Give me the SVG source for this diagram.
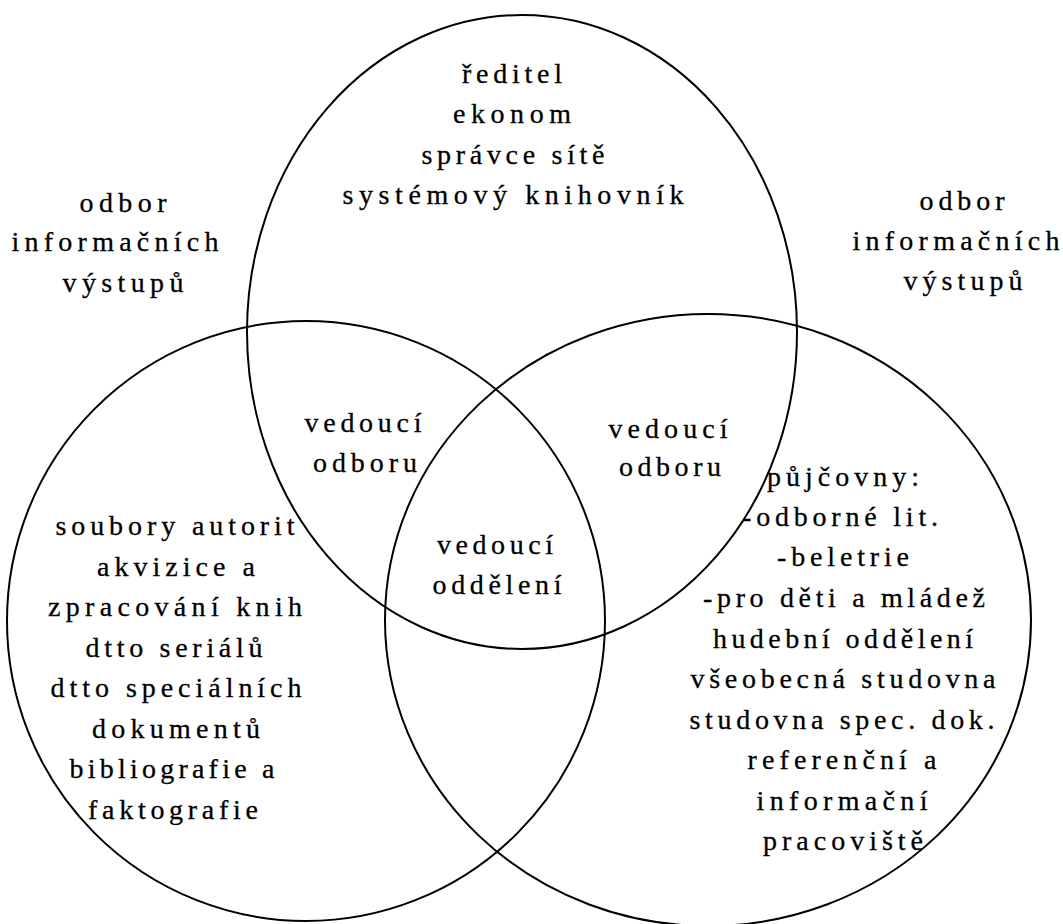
<svg xmlns="http://www.w3.org/2000/svg" width="1063" height="924" viewBox="0 0 1063 924">
<style>
.c{fill:none;stroke:#000;stroke-width:2}
text{font-family:"Liberation Serif","DejaVu Serif",serif;font-size:28px;fill:#000;stroke:#000;stroke-width:0.3;text-anchor:middle}
</style>
<rect width="1063" height="924" fill="#fff"/>
<g id="circle-top"><ellipse class="c" cx="522" cy="332" rx="275" ry="317"/></g>
<g id="circle-left"><ellipse class="c" cx="306" cy="621" rx="299" ry="300"/></g>
<g id="circle-right"><ellipse class="c" cx="708" cy="620" rx="323" ry="306"/></g>
<g id="label-top">
<text x="512" y="83" textLength="100" lengthAdjust="spacing">ředitel</text>
<text x="512" y="123" textLength="118" lengthAdjust="spacing">ekonom</text>
<text x="513" y="164" textLength="183" lengthAdjust="spacing">správce sítě</text>
<text x="513" y="204" textLength="341" lengthAdjust="spacing">systémový knihovník</text>
</g>
<g id="label-outside-left">
<text x="123" y="212" textLength="87" lengthAdjust="spacing">odbor</text>
<text x="115" y="251" textLength="207" lengthAdjust="spacing">informačních</text>
<text x="123" y="292" textLength="121" lengthAdjust="spacing">výstupů</text>
</g>
<g id="label-outside-right">
<text x="962" y="210" textLength="85" lengthAdjust="spacing">odbor</text>
<text x="956" y="250" textLength="207" lengthAdjust="spacing">informačních</text>
<text x="963" y="290" textLength="119" lengthAdjust="spacing">výstupů</text>
</g>
<g id="label-top-left">
<text x="363" y="432" textLength="117" lengthAdjust="spacing">vedoucí</text>
<text x="365" y="472" textLength="104" lengthAdjust="spacing">odboru</text>
</g>
<g id="label-top-right">
<text x="668" y="438" textLength="119" lengthAdjust="spacing">vedoucí</text>
<text x="670" y="476" textLength="102" lengthAdjust="spacing">odboru</text>
</g>
<g id="label-center">
<text x="495" y="554" textLength="116" lengthAdjust="spacing">vedoucí</text>
<text x="497" y="594" textLength="129" lengthAdjust="spacing">oddělení</text>
</g>
<g id="label-left">
<text x="175" y="535" textLength="239" lengthAdjust="spacing">soubory autorit</text>
<text x="176" y="576" textLength="158" lengthAdjust="spacing">akvizice a</text>
<text x="175" y="616" textLength="254" lengthAdjust="spacing">zpracování knih</text>
<text x="174" y="657" textLength="177" lengthAdjust="spacing">dtto seriálů</text>
<text x="176" y="697" textLength="251" lengthAdjust="spacing">dtto speciálních</text>
<text x="176" y="738" textLength="168" lengthAdjust="spacing">dokumentů</text>
<text x="172" y="778" textLength="205" lengthAdjust="spacing">bibliografie a</text>
<text x="173" y="819" textLength="170" lengthAdjust="spacing">faktografie</text>
</g>
<g id="label-right">
<text x="843" y="486" textLength="152" lengthAdjust="spacing">půjčovny:</text>
<text x="840" y="526" textLength="196" lengthAdjust="spacing">-odborné lit.</text>
<text x="843" y="566" textLength="132" lengthAdjust="spacing">-beletrie</text>
<text x="844" y="607" textLength="282" lengthAdjust="spacing">-pro děti a mládež</text>
<text x="843" y="648" textLength="260" lengthAdjust="spacing">hudební oddělení</text>
<text x="843" y="688" textLength="305" lengthAdjust="spacing">všeobecná studovna</text>
<text x="842" y="729" textLength="305" lengthAdjust="spacing">studovna spec. dok.</text>
<text x="842" y="769" textLength="189" lengthAdjust="spacing">referenční a</text>
<text x="842" y="810" textLength="171" lengthAdjust="spacing">informační</text>
<text x="843" y="850" textLength="160" lengthAdjust="spacing">pracoviště</text>
</g>
</svg>
